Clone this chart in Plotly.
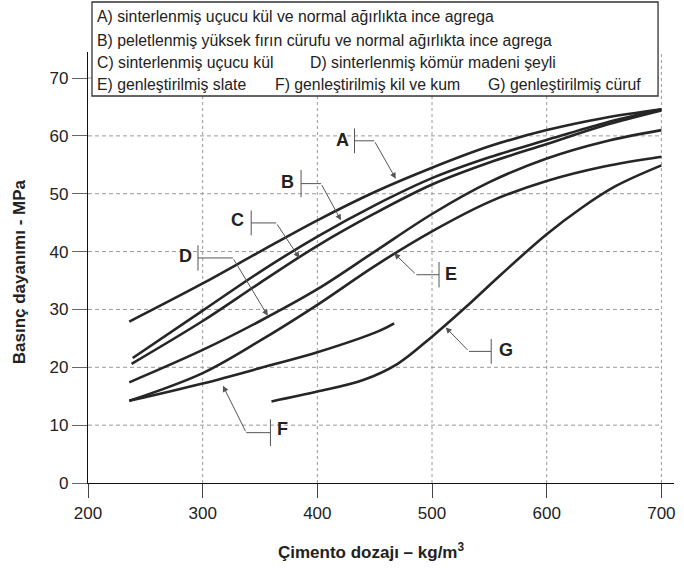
import plotly.graph_objects as go

# ---------------- data ----------------
A_x = [236, 300, 350, 400, 450, 500, 550, 600, 650, 700]
A_y = [27.9, 34.5, 40.0, 45.4, 50.3, 54.5, 58.2, 61.0, 63.1, 64.6]
B_x = [239, 300, 350, 400, 450, 500, 550, 600, 650, 700]
B_y = [21.6, 29.8, 36.5, 42.6, 48.0, 52.7, 56.3, 59.3, 62.2, 64.6]
C_x = [238, 300, 350, 400, 450, 500, 550, 600, 650, 700]
C_y = [20.6, 28.0, 34.6, 41.0, 46.6, 51.6, 55.4, 58.6, 61.8, 64.4]
D_x = [236, 300, 350, 400, 450, 500, 550, 600, 650, 700]
D_y = [17.4, 23.0, 28.0, 33.5, 40.0, 46.5, 52.0, 56.1, 59.0, 61.0]
E_x = [236, 300, 350, 400, 450, 500, 550, 600, 650, 700]
E_y = [14.2, 19.0, 24.6, 30.8, 37.5, 43.5, 48.6, 52.2, 54.7, 56.4]
F_x = [236, 300, 358, 400, 454, 467]
F_y = [14.2, 17.2, 20.3, 22.6, 26.3, 27.6]
G_x = [360, 400, 440, 470, 500, 530, 560, 600, 630, 660, 700]
G_y = [14.1, 15.8, 17.8, 20.6, 25.3, 30.5, 36.0, 43.0, 47.5, 51.3, 54.9]

x_ticks = [200, 300, 400, 500, 600, 700]
y_ticks = [0, 10, 20, 30, 40, 50, 60, 70]

legend_rows = [
    ["A) sinterlenmiş uçucu kül ve normal ağırlıkta ince agrega"],
    ["B) peletlenmiş yüksek fırın cürufu ve normal ağırlıkta ince agrega"],
    ["C) sinterlenmiş uçucu kül", "D) sinterlenmiş kömür madeni şeyli"],
    ["E) genleştirilmiş slate", "F) genleştirilmiş kil ve kum", "G) genleştirilmiş cüruf"],
]

x_title = "<b>Çimento dozajı – kg/m<sup>3</sup></b>"
y_title = "<b>Basınç dayanımı - MPa</b>"

# ---------------- layout constants (pixels) ----------------
W, H = 684, 572
L, R, T, B = 88, 8, 52, 89
X_RANGE = [200, 711]
Y_RANGE = [0, 74.5]
plot_w = W - L - R
plot_h = H - T - B

def px2paper_x(px):
    return (px - L) / plot_w

def py2paper_y(py):
    return (H - B - py) / plot_h

# label config: text position, bar (x, y0, y1), elbow x, arrow target
label_cfg = [
    ("A", (422, 59.3), (432.4, 61.3, 57.0), 449.6, (468.4, 52.6)),
    ("B", (374.2, 52.0), (385.8, 54.1, 49.4), 403.2, (420.6, 45.4)),
    ("C", (330.7, 45.4), (342.3, 47.1, 42.8), 364.1, (384.3, 38.9)),
    ("D", (285.2, 39.2), (295.9, 41.1, 36.7), 326.3, (356.8, 28.9)),
    ("E", (516.2, 36.2), (506.1, 38.2, 33.8), 486.3, (467.0, 39.7)),
    ("F", (369.8, 9.3), (359.1, 11.0, 6.4), 338.0, (317.7, 16.8)),
    ("G", (564.1, 23.0), (551.6, 24.9, 20.6), 532.2, (511.9, 26.9)),
]

FONT = "Liberation Sans, Arial, sans-serif"
LINE_COLOR = "#262626"
LEADER = "#555555"
GRID = "#9a9a9a"

fig = go.Figure()
for xs, ys in [(A_x, A_y), (B_x, B_y), (C_x, C_y), (D_x, D_y),
               (E_x, E_y), (F_x, F_y), (G_x, G_y)]:
    fig.add_trace(go.Scatter(x=xs, y=ys, mode="lines",
                             line=dict(color=LINE_COLOR, width=2.6,
                                       shape="spline", smoothing=1.0),
                             showlegend=False, hoverinfo="skip"))

shapes = []
# grid lines
for xv in x_ticks[1:]:
    shapes.append(dict(type="line", xref="x", yref="y", x0=xv, x1=xv,
                       y0=0, y1=Y_RANGE[1], layer="below",
                       line=dict(color=GRID, width=1, dash="3px,3px")))
for yv in y_ticks[1:]:
    shapes.append(dict(type="line", xref="x", yref="y", x0=X_RANGE[0], x1=700,
                       y0=yv, y1=yv, layer="below",
                       line=dict(color=GRID, width=1, dash="4px,3px")))

annotations = []
for name, (tx, ty), (bx, by0, by1), ex, (ax_, ay_) in label_cfg:
    annotations.append(dict(x=tx, y=ty, xref="x", yref="y", text=f"<b>{name}</b>",
                            showarrow=False, font=dict(family=FONT, size=18, color="#222")))
    shapes.append(dict(type="line", xref="x", yref="y", x0=bx, x1=bx, y0=by0, y1=by1,
                       line=dict(color=LEADER, width=1)))
    ym = (by0 + by1) / 2
    shapes.append(dict(type="line", xref="x", yref="y", x0=bx, x1=ex, y0=ym, y1=ym,
                       line=dict(color=LEADER, width=1)))
    annotations.append(dict(x=ax_, y=ay_, xref="x", yref="y", ax=ex, ay=ym,
                            axref="x", ayref="y", text="", showarrow=True,
                            arrowhead=2, arrowsize=1.2, arrowwidth=1,
                            arrowcolor=LEADER))

# legend box
shapes.append(dict(type="rect", xref="paper", yref="paper",
                   x0=px2paper_x(92), x1=px2paper_x(660),
                   y0=py2paper_y(96), y1=py2paper_y(2),
                   fillcolor="white", line=dict(color="#333", width=1.3),
                   layer="above"))
row_y = [17, 40, 62, 84]
row_x = [[95], [95], [95, 309], [95, 274, 487]]
for texts, xs, yy in zip(legend_rows, row_x, row_y):
    for t, xx in zip(texts, xs):
        annotations.append(dict(x=px2paper_x(xx), y=py2paper_y(yy), xref="paper",
                                yref="paper", xanchor="left", yanchor="middle",
                                text=t, showarrow=False,
                                font=dict(family=FONT, size=15.8, color="#222")))

# axis arrows
annotations.append(dict(x=714, y=0, xref="x", yref="y", ax=-12, ay=0, text="",
                        showarrow=True, arrowhead=2, arrowsize=1.2,
                        arrowwidth=1.2, arrowcolor="#111"))
annotations.append(dict(x=200, y=Y_RANGE[1] + 0.3, xref="x", yref="y", ax=0, ay=12,
                        text="", showarrow=True, arrowhead=2, arrowsize=1.2,
                        arrowwidth=1.2, arrowcolor="#111"))

# axis titles
annotations.append(dict(x=px2paper_x(372), y=py2paper_y(551), xref="paper", yref="paper",
                        xanchor="center", yanchor="middle",
                        text=x_title, showarrow=False,
                        font=dict(family=FONT, size=17, color="#222")))
annotations.append(dict(x=px2paper_x(19), y=py2paper_y(272), xref="paper", yref="paper",
                        xanchor="center", yanchor="middle",
                        text=y_title, textangle=-90, showarrow=False,
                        font=dict(family=FONT, size=17, color="#222")))

fig.update_layout(
    width=W, height=H,
    margin=dict(l=L, r=R, t=T, b=B),
    paper_bgcolor="white", plot_bgcolor="white",
    shapes=shapes, annotations=annotations,
    xaxis=dict(range=X_RANGE, tickvals=x_ticks, showgrid=False, zeroline=False,
               showline=True, linecolor="#111", linewidth=1.3,
               ticks="outside", ticklen=14, tickcolor="#444", tickwidth=1,
               tickfont=dict(family=FONT, size=17, color="#222")),
    yaxis=dict(range=Y_RANGE, tickvals=y_ticks, showgrid=False, zeroline=False,
               showline=True, linecolor="#111", linewidth=1.3,
               ticks="outside", ticklen=15, tickcolor="#666", tickwidth=1,
               tickfont=dict(family=FONT, size=17, color="#222")),
)

fig.write_html("out.html")
